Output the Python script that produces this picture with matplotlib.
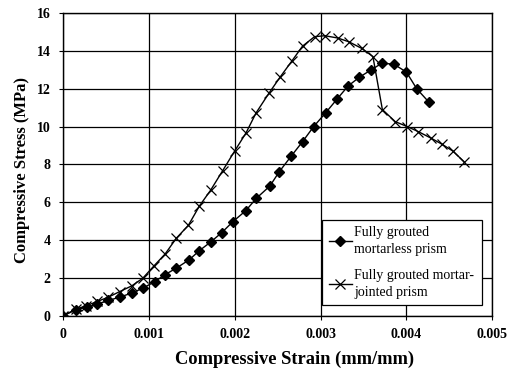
import matplotlib
matplotlib.use("Agg")
import matplotlib.pyplot as plt

strain_mortarless = [0, 0.00015, 0.00028, 0.0004, 0.00053, 0.00066, 0.0008, 0.00093, 0.00107,
                     0.00119, 0.00132, 0.00147, 0.00159, 0.00172, 0.00185, 0.00198, 0.00213,
                     0.00225, 0.00241, 0.00252, 0.00266, 0.00279, 0.00292, 0.00306, 0.00319,
                     0.00332, 0.00345, 0.00359, 0.00372, 0.00386, 0.004, 0.00412, 0.00426]
stress_mortarless = [0, 0.32, 0.46, 0.63, 0.81, 0.99, 1.2, 1.46, 1.81,
                     2.18, 2.52, 2.96, 3.45, 3.9, 4.4, 4.98, 5.56,
                     6.2, 6.86, 7.62, 8.45, 9.2, 10.0, 10.73, 11.44,
                     12.14, 12.6, 13.0, 13.36, 13.28, 12.88, 12.0, 11.3]

strain_jointed = [0, 0.00015, 0.00027, 0.0004, 0.00053, 0.00066, 0.0008, 0.00093, 0.00106,
                  0.00119, 0.00132, 0.00146, 0.00159, 0.00172, 0.00186, 0.002, 0.00213,
                  0.00225, 0.0024, 0.00253, 0.00267, 0.00279, 0.00293, 0.00305, 0.0032,
                  0.00333, 0.00348, 0.00361, 0.00372, 0.00387, 0.00401, 0.00414, 0.00429,
                  0.00441, 0.00454, 0.00467]
stress_jointed = [0, 0.35, 0.53, 0.76, 0.99, 1.28, 1.58, 1.99, 2.64,
                  3.27, 4.1, 4.78, 5.81, 6.64, 7.67, 8.71, 9.65,
                  10.73, 11.77, 12.62, 13.49, 14.25, 14.75, 14.8, 14.68,
                  14.48, 14.13, 13.7, 10.9, 10.26, 10.0, 9.73, 9.38,
                  9.08, 8.71, 8.15]

x_ticks = [0, 0.001, 0.002, 0.003, 0.004, 0.005]
x_tick_labels = ["0", "0.001", "0.002", "0.003", "0.004", "0.005"]
y_ticks = [0, 2, 4, 6, 8, 10, 12, 14, 16]

label_mortarless = "Fully grouted\nmortarless prism"
label_jointed = "Fully grouted mortar-\njointed prism"

plt.rcParams['font.family'] = ['Liberation Serif', 'DejaVu Serif']

fig = plt.figure(figsize=(5.08, 3.72), dpi=100)
ax = fig.add_axes([0.124, 0.151, 0.845, 0.814])

ax.plot(strain_mortarless, stress_mortarless, color='black', lw=1.0, marker='D',
        markersize=5, markerfacecolor='black', markeredgecolor='black', label=label_mortarless)
ax.plot(strain_jointed, stress_jointed, color='black', lw=1.0, marker='x',
        markersize=7, markeredgewidth=0.9, label=label_jointed)

ax.set_xlim(0, 0.005)
ax.set_ylim(0, 16)
ax.set_xticks(x_ticks)
ax.set_xticklabels(x_tick_labels)
ax.set_yticks(y_ticks)
ax.grid(True, color='black', lw=0.9)
ax.set_axisbelow(True)
for s in ax.spines.values():
    s.set_color('black')
    s.set_linewidth(1.0)
ax.tick_params(axis='both', direction='out', length=3, width=0.8, labelsize=10, pad=6)
for lbl in ax.get_xticklabels() + ax.get_yticklabels():
    lbl.set_fontweight('bold')

ax.set_xlabel("Compressive Strain (mm/mm)", fontsize=13.3, fontweight='bold')
ax.xaxis.set_label_coords(0.54, -0.115)
ax.set_ylabel("Compressive Stress (MPa)", fontsize=12, fontweight='bold')
ax.yaxis.set_label_coords(-0.077, 0.48)

leg = ax.legend(loc='upper left', bbox_to_anchor=(0.604, 0.317, 0.373, 0.0), mode='expand',
                fontsize=10, frameon=True, fancybox=False, framealpha=1, edgecolor='black',
                handlelength=1.7, handletextpad=0.15, borderaxespad=0, labelspacing=1.0,
                borderpad=0.45)
leg.get_frame().set_linewidth(0.9)
for t in leg.get_texts():
    t.set_linespacing(1.35)

fig.savefig("out.png", dpi=100)
